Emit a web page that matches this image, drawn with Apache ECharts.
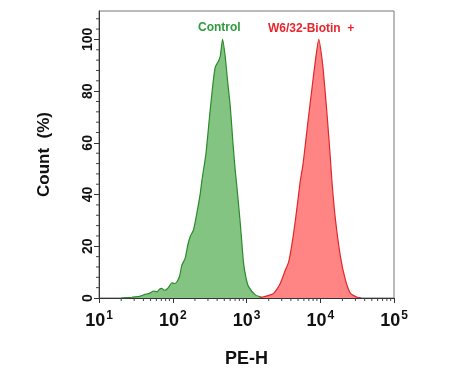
<!DOCTYPE html>
<html>
<head>
<meta charset="utf-8">
<script src="https://cdn.jsdelivr.net/npm/echarts@6/dist/echarts.min.js"></script>
<style>
html,body{margin:0;padding:0;background:#fff;}
#chart{width:457px;height:383px;}
</style>
</head>
<body>
<div id="chart"></div>
<script>
// Control histogram: [PE-H value, Count %]
var controlData = [
  [20, 0], [28, 0.3], [35, 0.6], [42, 1.4], [48, 1.8], [55, 2.7], [61, 2.4], [66, 3.4], [71, 3.7], [77, 3.0],
  [83, 3.4], [90, 4.6], [97, 5.9], [106, 5.6], [114, 6.3], [124, 8.5], [133, 12.7], [147, 15.3], [160, 20.5],
  [172, 23.7], [191, 26.3], [212, 32.7], [236, 40.4], [249, 45.6], [282, 55.9], [315, 70], [351, 82.9],
  [377, 89.3], [415, 91.5], [441, 93.5], [474, 100], [515, 93.2], [553, 84.2], [603, 73.9], [656, 59.7],
  [700, 50], [735, 44], [824, 28.8], [913, 13.4], [990, 7.5], [1068, 4.4], [1318, 1.2], [1624, 0.3], [1900, 0]
];
// W6/32-Biotin histogram: [PE-H value, Count %]
var biotinData = [
  [1500, 0], [1708, 0.5], [1900, 0.8], [2106, 1.2], [2336, 1.8], [2600, 3.5], [2879, 5.7], [3366, 10.8],
  [3733, 14], [4150, 21.1], [4603, 30.1], [5105, 40.4], [5383, 45.6], [5858, 52], [6761, 67.4], [7762, 81.6],
  [8603, 91.9], [9544, 100], [10620, 91.9], [11510, 81.6], [12650, 67.4], [13770, 53.3], [14500, 44],
  [16100, 30.1], [18800, 15.9], [21980, 6.9], [25700, 1.8], [31700, 0.3], [36000, 0]
];
var yTicks = [0, 20, 40, 60, 80, 100];
var yMinorTicks = [4, 8, 12, 16, 24, 28, 32, 36, 44, 48, 52, 56, 64, 68, 72, 76, 84, 88, 92, 96, 104, 108];
var xMinorTicks = [20, 30, 40, 50, 60, 70, 80, 90, 200, 300, 400, 500, 600, 700, 800, 900,
  2000, 3000, 4000, 5000, 6000, 7000, 8000, 9000, 20000, 30000, 40000, 50000, 60000, 70000, 80000, 90000];
var seriesNames = ['Control', 'W6/32-Biotin  +'];

var chart = echarts.init(document.getElementById('chart'));
var font = '"Liberation Sans", Arial, sans-serif';

function xMinorRender(params, api) {
  var p = api.coord([api.value(0), 0]);
  return {type: 'line', shape: {x1: p[0], y1: p[1], x2: p[0], y2: p[1] + 3},
    style: {stroke: '#444', lineWidth: 1}};
}
function yMinorRender(params, api) {
  var p = api.coord([10, api.value(0)]);
  return {type: 'line', shape: {x1: p[0] - 3, y1: p[1], x2: p[0], y2: p[1]},
    style: {stroke: '#444', lineWidth: 1}};
}

chart.setOption({
  animation: false,
  backgroundColor: '#fff',
  grid: {left: 99, right: 63, top: 11, bottom: 85, show: true, borderColor: '#777', borderWidth: 1},
  xAxis: {
    type: 'log', logBase: 10, min: 10, max: 100000,
    name: 'PE-H', nameLocation: 'middle', nameGap: 52,
    nameTextStyle: {fontFamily: font, fontWeight: 'bold', fontSize: 18, color: '#111'},
    axisLine: {lineStyle: {color: '#333', width: 1}},
    axisTick: {show: true, length: 5, lineStyle: {color: '#333'}},
    splitLine: {show: false},
    axisLabel: {
      margin: 12,
      formatter: function (v) { return '10{sup|' + Math.round(Math.log10(v)) + '}'; },
      fontFamily: font, fontSize: 18, fontWeight: 'bold', color: '#111',
      rich: {sup: {fontFamily: font, fontSize: 12, fontWeight: 'bold', color: '#111', verticalAlign: 'top', padding: [0, 0, 10, 1]}}
    }
  },
  yAxis: {
    type: 'value', min: 0, max: 111,
    name: 'Count  (%)', nameLocation: 'middle', nameGap: 46, nameRotate: 90,
    nameTextStyle: {fontFamily: font, fontWeight: 'bold', fontSize: 17, color: '#111'},
    axisLine: {show: true, lineStyle: {color: '#333', width: 1}},
    axisTick: {show: true, length: 5, customValues: yTicks, lineStyle: {color: '#333'}},
    splitLine: {show: false},
    axisLabel: {customValues: yTicks, rotate: 90, margin: 4, fontFamily: font, fontWeight: 'bold', fontSize: 14, color: '#111'}
  },
  graphic: [
    {type: 'text', left: 198, top: 22, style: {text: seriesNames[0], fontFamily: font, fontWeight: 'bold', fontSize: 12, fill: '#2f9a3c'}},
    {type: 'text', left: 268, top: 23, style: {text: seriesNames[1], fontFamily: font, fontWeight: 'bold', fontSize: 12, fill: '#e8262c'}}
  ],
  series: [
    {
      name: seriesNames[0], type: 'line', data: controlData, symbol: 'none', smooth: 0.2,
      lineStyle: {color: '#2a8a2a', width: 1.2},
      areaStyle: {color: '#83c483', opacity: 1}, z: 2
    },
    {
      name: seriesNames[1], type: 'line', data: biotinData, symbol: 'none', smooth: 0.2,
      lineStyle: {color: '#e0262a', width: 1.2},
      areaStyle: {color: '#ff8585', opacity: 1}, z: 3
    },
    {type: 'custom', data: xMinorTicks.map(function (v) { return [v]; }), renderItem: xMinorRender, clip: false, silent: true, z: 5,
      encode: {x: 0}},
    {type: 'custom', data: yMinorTicks.map(function (v) { return [v]; }), renderItem: yMinorRender, clip: false, silent: true, z: 5,
      encode: {y: 0}}
  ]
});
</script>
</body>
</html>
